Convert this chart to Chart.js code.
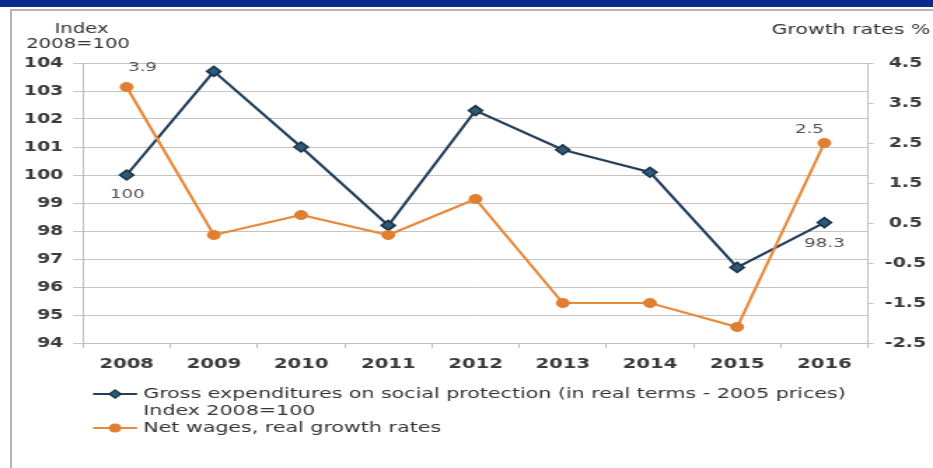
<!DOCTYPE html>
<html>
<head>
<meta charset="utf-8">
<script src="https://cdn.jsdelivr.net/npm/chart.js@4.4.0/dist/chart.umd.min.js"></script>
<style>
html,body{margin:0;padding:0;background:#fff;width:933px;height:468px;overflow:hidden;}
#banner{position:absolute;left:0;top:0;width:933px;height:7px;background:#0c2a8c;}
#frame{position:absolute;left:10px;top:9px;width:923px;height:470px;border-top:2px solid #b4b4b4;border-left:2px solid #b4b4b4;}
#wrap{position:absolute;left:0;top:0;width:666px;height:468px;transform:scaleX(1.4009);transform-origin:0 0;}
canvas{display:block;}
</style>
</head>
<body>
<div id="banner"></div>
<div id="frame"></div>
<div id="wrap"><canvas id="c" width="666" height="468"></canvas></div>
<script>
const years = ['2008', '2009', '2010', '2011', '2012', '2013', '2014', '2015', '2016'];
const socialIndex = [100, 103.7, 101.0, 98.2, 102.3, 100.9, 100.1, 96.7, 98.3];
const wageGrowth = [3.9, 0.2, 0.7, 0.2, 1.1, -1.5, -1.5, -2.1, 2.5];
const leftTicks = [94, 95, 96, 97, 98, 99, 100, 101, 102, 103, 104];
const rightTicks = [-2.5, -1.5, -0.5, 0.5, 1.5, 2.5, 3.5, 4.5];
const leftTitle = ['Index', '2008=100'];
const rightTitle = 'Growth rates %';
const grossLabel = ['Gross expenditures on social protection (in real terms - 2005 prices)', 'Index 2008=100'];
const wageLabel = ['Net wages, real growth rates'];

const FONT = '"DejaVu Sans", Verdana, sans-serif';
const BLUE = '#243f5b';
const ORANGE = '#e68a3c';

const extras = {
  id: 'extras',
  afterDraw(chart) {
    const ctx = chart.ctx;
    const a = chart.chartArea;
    ctx.save();
    ctx.fillStyle = '#333';
    ctx.font = '14px ' + FONT;
    ctx.textBaseline = 'middle';
    ctx.textAlign = 'center';
    ctx.fillText(leftTitle[0], 58.2, 29);
    ctx.fillText(leftTitle[1], 55.7, 44);
    ctx.textAlign = 'right';
    ctx.font = '14.6px ' + FONT;
    ctx.fillText(rightTitle, 664, 30);

    // data labels on first and last points
    const specs = [
      {ds: 0, idx: 0, dx: 0.5, dy: 20},
      {ds: 0, idx: 8, dx: 0, dy: 21},
      {ds: 1, idx: 0, dx: 11.4, dy: -19},
      {ds: 1, idx: 8, dx: -10.7, dy: -13}
    ];
    ctx.font = '13px ' + FONT;
    ctx.fillStyle = '#505050';
    ctx.textAlign = 'center';
    specs.forEach(s => {
      const pt = chart.getDatasetMeta(s.ds).data[s.idx];
      const v = chart.data.datasets[s.ds].data[s.idx];
      ctx.fillText(String(v), pt.x + s.dx, pt.y + s.dy);
    });

    // legend
    const lx0 = a.left + 7.2, lx1 = a.left + 38.6, tx = a.left + 43;
    const mx = (lx0 + lx1) / 2;
    const rows = [
      {y: 394, lines: grossLabel, color: BLUE, style: 'diamond'},
      {y: 428, lines: wageLabel, color: ORANGE, style: 'circle'}
    ];
    ctx.font = '14.7px ' + FONT;
    ctx.textAlign = 'left';
    rows.forEach(r => {
      ctx.strokeStyle = r.color;
      ctx.lineWidth = 2;
      ctx.beginPath();
      ctx.moveTo(lx0, r.y);
      ctx.lineTo(lx1, r.y);
      ctx.stroke();
      ctx.fillStyle = r.style === 'diamond' ? '#2e5a72' : '#e07f30';
      ctx.beginPath();
      if (r.style === 'diamond') {
        const d = 4.2;
        ctx.moveTo(mx, r.y - d); ctx.lineTo(mx + d, r.y); ctx.lineTo(mx, r.y + d); ctx.lineTo(mx - d, r.y); ctx.closePath();
        ctx.fill();
        ctx.strokeStyle = '#1a334d'; ctx.lineWidth = 1.2; ctx.stroke();
      } else {
        ctx.arc(mx, r.y, 4.5, 0, Math.PI * 2);
        ctx.fill();
      }
      ctx.fillStyle = '#333';
      r.lines.forEach((t, i) => ctx.fillText(t, tx, r.y + i * 17));
    });
    ctx.restore();
  }
};

const xFont = {family: FONT, size: 14, weight: 'bold'};
const yFont = {family: FONT, size: 13.5, weight: 'bold'};

new Chart(document.getElementById('c'), {
  type: 'line',
  data: {
    labels: years,
    datasets: [
      {
        label: grossLabel.join(' '),
        data: socialIndex,
        yAxisID: 'y',
        order: 1,
        borderColor: BLUE,
        backgroundColor: '#2e5a72',
        borderWidth: 2.2,
        pointStyle: 'rectRot',
        pointRadius: 5,
        pointBackgroundColor: '#2e5a72',
        pointBorderColor: '#1a334d',
        pointBorderWidth: 1.5,
        tension: 0
      },
      {
        label: wageLabel[0],
        data: wageGrowth,
        yAxisID: 'y1',
        order: 0,
        borderColor: ORANGE,
        backgroundColor: '#e07f30',
        borderWidth: 2.2,
        pointStyle: 'circle',
        pointRadius: 4.5,
        pointBackgroundColor: '#e07f30',
        pointBorderColor: '#e07f30',
        pointBorderWidth: 1,
        tension: 0
      }
    ]
  },
  options: {
    responsive: false,
    devicePixelRatio: 1,
    animation: false,
    layout: {padding: {top: 63, left: 0, right: 0, bottom: 95}},
    plugins: {legend: {display: false}, tooltip: {enabled: false}},
    scales: {
      x: {
        offset: true,
        grid: {offset: true, drawOnChartArea: false, drawTicks: true, tickLength: 5, color: '#bdbdbd'},
        border: {color: '#bdbdbd'},
        ticks: {color: '#3a3a3a', font: xFont, padding: 8, maxRotation: 0, autoSkip: false},
        afterFit(s) { s.height = 30; }
      },
      y: {
        position: 'left',
        min: 94, max: 104,
        afterBuildTicks(s) { s.ticks = leftTicks.map(v => ({value: v})); },
        grid: {color: '#c4c4c4', tickLength: 7},
        border: {color: '#bdbdbd'},
        ticks: {color: '#3a3a3a', font: yFont, padding: 7, callback: v => String(v)},
        afterFit(s) { s.width = 59.25; }
      },
      y1: {
        position: 'right',
        min: -2.5, max: 4.5,
        afterBuildTicks(s) { s.ticks = rightTicks.map(v => ({value: v})); },
        grid: {drawOnChartArea: false, tickLength: 4, color: '#c4c4c4'},
        border: {color: '#bdbdbd'},
        ticks: {color: '#3a3a3a', font: yFont, padding: 8, crossAlign: 'center', callback: v => Number(v).toFixed(1)},
        afterFit(s) { s.width = 46.4; }
      }
    }
  },
  plugins: [extras]
});
</script>
</body>
</html>
